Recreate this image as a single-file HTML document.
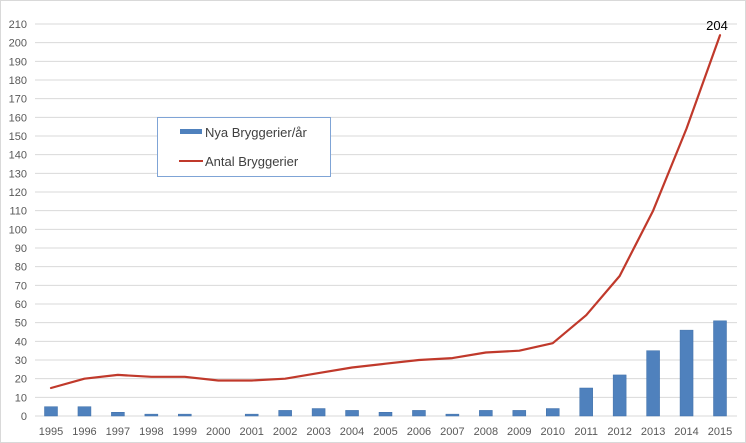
<!DOCTYPE html>
<html><head><meta charset="utf-8"><style>
html,body{margin:0;padding:0;background:#fff}
svg{display:block;font-family:"Liberation Sans",Arial,sans-serif}
</style></head><body>
<svg id="s" width="746" height="443" xmlns="http://www.w3.org/2000/svg">
<rect x="0.5" y="0.5" width="745" height="442" fill="#fff" stroke="#d9d9d9"/>
<g id="grid" stroke="#d9d9d9" stroke-width="1"></g>
<g id="bars" fill="#4f81bd" stroke="#3f6fa8" stroke-width="0.5"></g>
<polyline fill="none" stroke="#c0392b" stroke-width="2.2" stroke-linejoin="round" stroke-linecap="round"
points="51,388 84.45,378.7 117.9,374.9 151.35,376.8 184.8,376.8 218.25,380.5 251.7,380.5 285.15,378.7 318.6,373.1 352.05,367.5 385.5,363.7 418.95,360 452.4,358.1 485.85,352.5 519.3,350.7 552.75,343.2 586.2,315.2 619.65,276 653.1,210.7 686.55,128.5 720,35.2"/>
<g font-size="11" fill="#595959" text-anchor="end">
<text x="27" y="420">0</text><text x="27" y="401.3">10</text><text x="27" y="382.7">20</text><text x="27" y="364">30</text><text x="27" y="345.3">40</text><text x="27" y="326.7">50</text><text x="27" y="308">60</text><text x="27" y="289.3">70</text><text x="27" y="270.7">80</text><text x="27" y="252">90</text><text x="27" y="233.3">100</text><text x="27" y="214.7">110</text><text x="27" y="196">120</text><text x="27" y="177.3">130</text><text x="27" y="158.7">140</text><text x="27" y="140">150</text><text x="27" y="121.3">160</text><text x="27" y="102.7">170</text><text x="27" y="84">180</text><text x="27" y="65.3">190</text><text x="27" y="46.7">200</text><text x="27" y="28">210</text>
</g>
<g font-size="11" fill="#595959" text-anchor="middle">
<text x="51" y="435">1995</text><text x="84.45" y="435">1996</text><text x="117.9" y="435">1997</text><text x="151.35" y="435">1998</text><text x="184.8" y="435">1999</text><text x="218.25" y="435">2000</text><text x="251.7" y="435">2001</text><text x="285.15" y="435">2002</text><text x="318.6" y="435">2003</text><text x="352.05" y="435">2004</text><text x="385.5" y="435">2005</text><text x="418.95" y="435">2006</text><text x="452.4" y="435">2007</text><text x="485.85" y="435">2008</text><text x="519.3" y="435">2009</text><text x="552.75" y="435">2010</text><text x="586.2" y="435">2011</text><text x="619.65" y="435">2012</text><text x="653.1" y="435">2013</text><text x="686.55" y="435">2014</text><text x="720" y="435">2015</text>
</g>
<text x="717" y="30" font-size="13" fill="#000" text-anchor="middle">204</text>
<rect x="157.5" y="117.5" width="173" height="59" fill="#fff" stroke="#7fa4d6"/>
<rect x="180" y="129" width="22" height="5" fill="#4f81bd"/>
<line x1="179" y1="161" x2="203" y2="161" stroke="#c0392b" stroke-width="2"/>
<g font-size="13" fill="#404040">
<text x="205" y="137">Nya Bryggerier/år</text>
<text x="205" y="166">Antal Bryggerier</text>
</g>
</svg>
<script>
(function(){
var ns="http://www.w3.org/2000/svg",g=document.getElementById("grid"),b=document.getElementById("bars");
for(var k=0;k<=21;k++){var y=416-18.6667*k;var l=document.createElementNS(ns,"line");
l.setAttribute("x1",35);l.setAttribute("x2",737);l.setAttribute("y1",y);l.setAttribute("y2",y);g.appendChild(l);}
var v=[5,5,2,1,1,0,1,3,4,3,2,3,1,3,3,4,15,22,35,46,51];
for(var i=0;i<v.length;i++){if(!v[i])continue;var x=51+33.45*i,h=v[i]*1.8667;var r=document.createElementNS(ns,"rect");
r.setAttribute("x",x-6.5);r.setAttribute("y",416-h);r.setAttribute("width",13);r.setAttribute("height",h);b.appendChild(r);}
})();
</script>
</body></html>
